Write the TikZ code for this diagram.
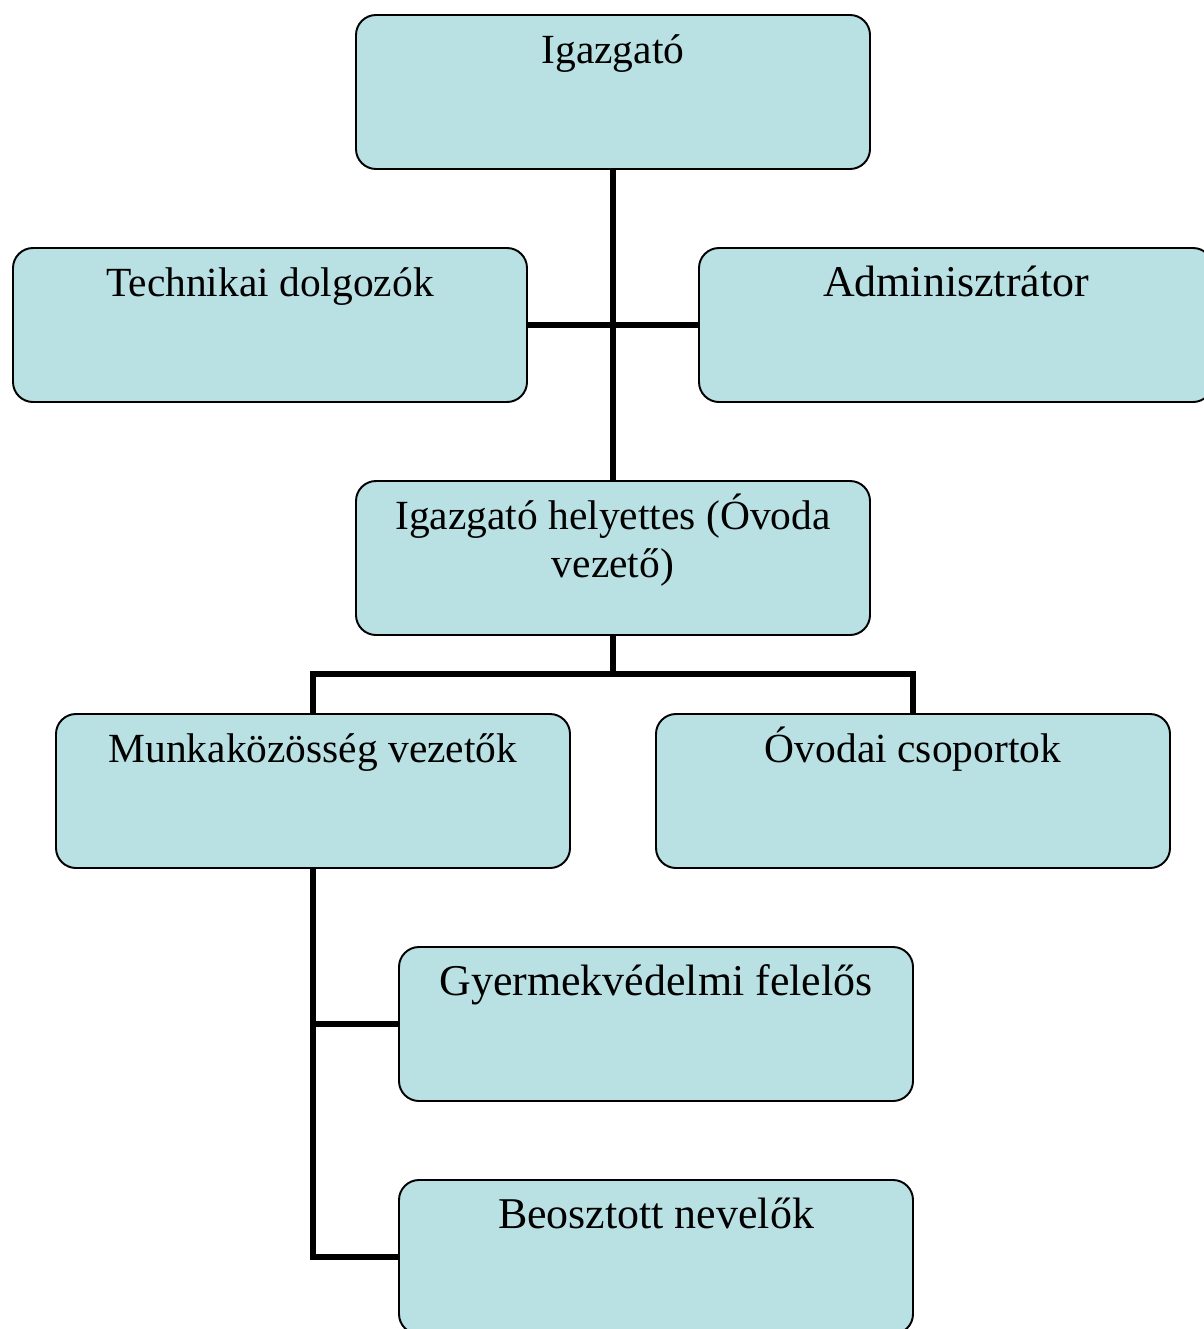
\documentclass[tikz,border=0pt]{standalone}
\usepackage{fontspec}
\setmainfont{Liberation Serif}
\usepackage{tikz}

\definecolor{boxfill}{RGB}{185,224,227}
\newcommand{\boxtext}[1]{\parbox[c][3.08cm][t]{10cm}{\centering\rule{0pt}{0.96cm}#1}}

\begin{document}
\begin{tikzpicture}[
        unit/.style={rectangle, draw, line width=1.1pt, fill=boxfill, rounded corners=0.4cm, minimum width=10.28cm, minimum height=3.08cm, inner sep=0pt, font=\fontsize{23.6}{27.4}\selectfont},
        bigunit/.style={unit, font=\fontsize{25}{27.4}\selectfont},
        link/.style={line width=3.4pt}
    ]
        \useasboundingbox (0,0) rectangle (24.06,-26.58);

        % Boxes
        \node[unit] (igazgato) at (12.26,-1.84) {\boxtext{Igazgató}};
        \node[unit] (technikai) at (5.40,-6.50) {\boxtext{Technikai dolgozók}};
        \node[bigunit] (admin) at (19.12,-6.50) {\boxtext{Adminisztrátor}};
        \node[unit] (helyettes) at (12.26,-11.16) {\boxtext{Igazgató helyettes (Óvoda vezető)}};
        \node[unit] (munka) at (6.26,-15.82) {\boxtext{Munkaközösség vezetők}};
        \node[unit] (csoportok) at (18.26,-15.82) {\boxtext{Óvodai csoportok}};
        \node[bigunit] (gyermek) at (13.12,-20.48) {\boxtext{Gyermekvédelmi felelős}};
        \node[bigunit] (nevelok) at (13.12,-25.14) {\boxtext{Beosztott nevelők}};

        % Connectors
        \coordinate (split) at (12.26,-13.48);
        \draw[link] (igazgato.south) -- (helyettes.north);
        \draw[link] (technikai.east) -- (admin.west);
        \draw[link] (helyettes.south) -- (split);
        \draw[link] (munka.north) |- (split) -| (csoportok.north);
        \draw[link] (munka.south) |- (nevelok.west);
        \draw[link] (munka.south |- gyermek.west) -- (gyermek.west);

    \end{tikzpicture}
\end{document}
